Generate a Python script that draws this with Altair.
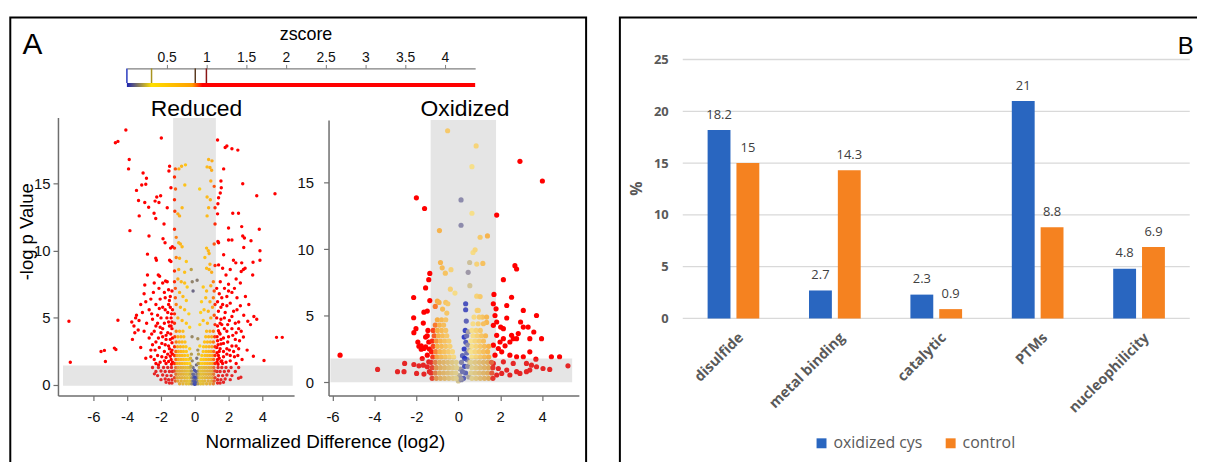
import altair as alt
import numpy as np
import pandas as pd

W, H = 1197, 454

# ---------------- Panel A data ----------------
# (normalized difference log2, -log p) for each cysteine
REDUCED_PTS = [
    # left, outside band (red)
    (-4.08,19.0),(-4.7,18.05),(-4.55,18.15),(-1.98,18.4),(-3.88,16.8),(-3.92,16.1),
    (-1.49,16.3),(-1.53,15.95),(-3.06,15.8),(-2.86,15.4),(-3.14,14.9),(-2.9,14.95),
    (-3.45,14.5),(-2.25,14.0),(-2.35,13.7),(-2.02,14.1),(-3.33,13.75),(-2.96,13.6),
    (-2.73,13.25),(-1.41,14.7),(-1.63,13.2),(-2.12,13.6),(-3.29,12.6),(-2.41,12.8),
    (-2.31,12.4),(-1.82,12.0),(-3.84,11.5),(-2.71,11.1),(-1.88,10.9),(-1.76,10.6),
    (-1.33,10.3),(-1.43,10.2),(-2.8,9.75),(-2.31,9.45),(-2.27,9.3),(-1.49,9.3),
    (-1.41,9.2),(-2.96,7.45),(-2.8,8.2),(-2.16,8.2),(-2.08,8.1),(-1.73,7.75),
    (-1.63,7.7),(-1.9,7.6),(-2.12,7.2),(-2.45,6.9),(-3.0,6.8),(-1.55,7.1),(-1.35,7.0),
    (-2.6,6.4),(-3.2,6.0),(-2.9,6.2),(-1.75,6.5),(-1.45,6.6),(-2.3,6.0),(-1.9,5.8),
    (-2.7,5.6),(-3.1,5.4),(-3.5,5.0),(-3.3,4.8),(-2.2,5.2),(-1.6,5.4),(-1.4,5.0),
    (-2.5,4.9),(-2.85,4.6),(-3.6,4.4),(-1.8,4.6),(-2.05,4.3),(-2.4,4.0),(-3.0,4.0),
    (-1.35,4.2),(-1.6,3.9),(-1.9,3.6),(-2.7,3.5),(-3.69,3.4),(-2.3,3.2),(-1.45,3.4),
    (-1.75,3.0),(-2.1,2.8),(-2.6,2.6),(-3.2,2.8),(-1.35,2.6),(-1.6,2.3),(-1.95,2.1),
    (-2.4,1.9),(-2.9,2.0),(-1.4,1.9),(-1.7,1.6),(-2.15,1.5),(-1.32,1.7),(-1.32,2.3),
    (-1.5,2.7),(-1.32,3.5),(-1.42,3.8),(-1.32,5.6),(-1.55,6.0),(-1.35,4.7),(-1.5,4.4),
    (-1.7,3.4),(-2.0,3.9),(-2.2,4.6),(-1.65,5.0),(-2.55,5.3),(-1.45,5.8),(-2.05,6.4),
    (-1.38,1.55),(-1.55,1.75),(-1.8,1.8),(-2.05,1.7),(-2.3,1.6),(-1.45,2.15),(-1.7,2.05),
    (-2.2,2.2),(-2.6,2.1),(-1.4,2.45),(-1.8,2.5),(-2.35,2.6),(-1.55,2.9),(-1.95,3.1),
    (-2.5,3.0),(-1.35,3.15),(-1.7,3.7),(-2.15,3.5),(-2.55,3.8),(-1.4,4.4),(-1.9,4.2),
    (-2.3,4.4),(-1.55,4.7),(-2.0,5.0),(-1.38,5.3),(-1.75,5.6),(-2.1,5.7),(-1.5,6.3),
    (-1.8,6.9),(-2.4,7.6),
    (-1.35,0.15),(-1.5,0.15),(-1.7,0.2),(-1.35,0.4),(-1.55,0.4),(-1.75,0.45),(-2.0,0.4),
    (-1.4,0.7),(-1.65,0.7),(-1.9,0.75),(-2.2,0.7),(-1.32,1.0),(-1.5,1.0),(-1.75,1.0),
    (-2.0,1.05),(-2.3,1.0),(-1.38,1.3),(-1.6,1.3),(-1.85,1.3),(-2.15,1.3),(-2.5,1.3),
    (-2.39,0.83),
    (-7.45,4.75),(-7.37,1.7),(-5.29,1.75),(-5.55,2.5),(-5.35,2.58),(-4.76,2.75),
    (-4.67,2.65),(-4.55,4.82),(-3.73,4.7),(-3.45,5.2),(-3.55,3.9),(-3.35,4.1),
    # right, outside band (red)
    (1.35,18.25),(1.8,17.7),(1.9,17.8),(2.2,17.6),(2.55,17.5),(1.71,16.1),(1.55,15.2),
    (1.57,14.7),(2.84,15.0),(3.67,14.1),(4.75,14.25),(1.41,13.95),(1.51,14.3),(1.37,13.5),
    (2.25,12.8),(2.59,12.8),(1.35,12.75),(2.0,11.7),(2.78,11.8),(3.82,11.6),(1.37,10.7),
    (1.41,10.6),(2.0,10.8),(2.2,10.8),(2.84,11.1),(2.94,10.95),(3.33,10.75),(2.9,10.25),
    (3.86,10.0),(3.86,9.3),(1.71,9.7),(2.29,9.3),(2.43,9.1),(3.45,9.15),(1.41,8.95),
    (1.65,8.7),(2.78,9.1),(2.88,8.6),(2.98,8.7),(2.75,8.45),(3.43,8.2),(1.3,7.2),
    (1.51,7.7),(1.76,7.2),(2.0,7.5),(2.35,7.2),(2.7,7.6),(2.2,6.9),(1.45,6.8),(1.9,6.6),
    (2.5,6.5),(3.0,6.6),(1.35,6.2),(1.65,6.0),(2.1,6.1),(2.7,5.9),(3.2,6.0),(1.4,5.5),
    (1.8,5.4),(2.3,5.5),(2.9,5.2),(3.5,5.1),(1.55,4.9),(2.05,4.8),(2.6,4.7),(3.14,4.75),
    (3.67,4.9),(3.3,4.5),(1.35,4.4),(1.75,4.2),(2.2,4.2),(2.75,4.0),(1.5,3.8),(2.0,3.6),
    (2.88,3.57),(2.4,3.4),(1.35,3.3),(1.7,3.1),(2.2,2.9),(2.6,2.7),(3.1,2.6),(1.45,2.5),
    (1.9,2.3),(2.35,2.1),(3.47,2.15),(4.1,1.83),(2.8,1.9),(1.35,1.9),(1.65,1.6),(1.32,1.7),
    (1.45,2.0),(1.32,2.4),(1.5,2.7),(1.32,3.6),(1.45,3.9),(1.6,1.8),(1.3,2.8),(1.3,5.0),
    (1.6,4.5),(1.9,4.0),(2.45,3.9),(1.55,3.4),(1.9,2.7),(2.3,2.5),(4.84,3.55),(5.18,3.55),
    (1.38,1.55),(1.55,1.75),(1.85,1.7),(2.1,1.8),(2.45,1.6),(1.7,2.1),(2.1,2.2),(2.55,2.2),
    (1.4,2.2),(1.7,2.5),(2.05,2.6),(2.45,2.9),(1.55,3.05),(1.95,3.2),(2.65,3.3),(1.38,3.0),
    (1.7,3.5),(2.25,3.7),(2.6,4.2),(1.4,4.05),(1.95,4.5),(2.4,4.6),(1.5,4.6),(1.75,5.0),
    (2.2,5.1),(1.55,5.8),(1.9,5.9),(2.5,5.6),(1.6,6.5),(2.0,7.0),(2.45,7.9),(1.85,8.2),
    (2.1,8.6),
    (1.35,0.15),(1.5,0.15),(1.7,0.2),(1.35,0.4),(1.55,0.4),(1.8,0.45),(2.1,0.4),(1.4,0.7),
    (1.65,0.7),(1.9,0.75),(2.2,0.7),(1.32,1.0),(1.5,1.0),(1.75,1.0),(2.0,1.05),(2.4,1.0),
    (1.38,1.3),(1.6,1.3),(1.85,1.3),(2.15,1.3),(2.6,1.3),(2.59,0.5),(2.73,0.58),
    # inside band, upper part
    (-1.15,16.1),(-0.94,16.1),(-0.78,16.3),(-0.55,16.4),(-1.14,14.6),(-0.59,14.9),
    (0.29,14.6),(0.73,14.0),(0.92,13.8),(0.82,16.8),(1.02,16.7),(0.73,16.25),(0.9,16.2),
    (1.0,16.0),(0.95,15.2),(-0.75,13.2),(-1.18,12.95),(-1.0,12.75),(-0.9,12.6),(0.73,12.6),
    (0.82,13.2),(-1.1,11.0),(-0.95,10.6),(-0.85,10.5),(-0.75,10.3),(0.7,10.2),(0.8,10.0),
    (0.85,9.8),(-1.1,9.5),(-0.9,9.45),(-0.5,9.2),(0.6,9.5),(0.9,9.0),(-1.2,8.5),(-0.95,8.6),
    (-0.6,8.4),(-0.21,8.6),(-0.15,7.7),(0.14,7.8),(-0.1,7.0),(0.7,8.7),(0.85,8.6),(1.0,8.4),
    (-1.0,7.9),(-0.8,7.7),(-0.6,7.6),(-0.45,7.3),(0.5,7.3),(0.7,7.0),(0.95,7.4),(1.1,7.7),
    (-1.15,7.2),(-0.9,6.9),(-0.7,6.6),(-0.5,6.3),(0.4,6.2),(0.65,6.5),(0.9,6.2),(1.1,6.5),
    (-1.1,6.0),(-0.85,5.8),(-0.6,5.6),(-0.35,5.3),(0.35,5.4),(0.55,5.6),(0.8,5.5),(1.05,5.8),
    (-1.2,5.3),(-1.0,5.0),(-0.75,4.8),(-0.5,4.6),(-0.3,4.3),(0.3,4.5),(0.5,4.8),(0.75,4.6),
    (0.95,5.0),(1.15,5.2),(-0.16,3.6),(0.18,3.45),
    (-1.2,4.6),(-1.15,6.5),(1.2,4.5),(1.2,6.0),(1.15,7.0),(-1.2,7.7),(1.2,8.9),(-1.2,10.2),
    (1.15,10.5),(-1.2,11.6),(1.2,12.0),(1.2,13.2),(-1.2,13.8),(1.15,14.8),(-1.2,15.5),
    # inside band, dense lower part
    (-0.9,0.1),(-0.7,0.1),(-0.5,0.1),(-0.35,0.1),(-0.2,0.1),(-0.1,0.1),(0.0,0.1),(0.1,0.1),
    (0.2,0.1),(0.35,0.1),(0.5,0.1),(0.7,0.1),(0.9,0.1),(1.1,0.1),
    (-1.15,0.3),(-1.0,0.3),(-0.8,0.3),(-0.6,0.3),(-0.45,0.3),(-0.3,0.3),(-0.15,0.3),
    (-0.05,0.3),(0.05,0.3),(0.15,0.3),(0.3,0.3),(0.45,0.3),(0.6,0.3),(0.8,0.3),(1.0,0.3),(1.15,0.3),
    (-1.2,0.55),(-1.05,0.55),(-0.9,0.55),(-0.75,0.55),(-0.6,0.55),(-0.45,0.55),(-0.3,0.55),
    (-0.18,0.55),(-0.08,0.55),(0.08,0.55),(0.18,0.55),(0.3,0.55),(0.45,0.55),(0.6,0.55),
    (0.75,0.55),(0.9,0.55),(1.05,0.55),(1.2,0.55),
    (-1.12,0.8),(-0.97,0.8),(-0.82,0.8),(-0.67,0.8),(-0.52,0.8),(-0.38,0.8),(-0.25,0.8),
    (-0.12,0.8),(0.12,0.8),(0.25,0.8),(0.38,0.8),(0.52,0.8),(0.67,0.8),(0.82,0.8),(0.97,0.8),(1.12,0.8),
    (-1.2,1.05),(-1.05,1.05),(-0.9,1.05),(-0.75,1.05),(-0.6,1.05),(-0.46,1.05),(-0.32,1.05),
    (-0.2,1.05),(0.2,1.05),(0.32,1.05),(0.46,1.05),(0.6,1.05),(0.75,1.05),(0.9,1.05),(1.05,1.05),(1.2,1.05),
    (-1.13,1.3),(-0.98,1.3),(-0.83,1.3),(-0.68,1.3),(-0.54,1.3),(-0.4,1.3),(-0.27,1.3),
    (0.27,1.3),(0.4,1.3),(0.54,1.3),(0.68,1.3),(0.83,1.3),(0.98,1.3),(1.13,1.3),
    (-1.2,1.6),(-1.05,1.6),(-0.9,1.6),(-0.75,1.6),(-0.6,1.6),(-0.45,1.6),(-0.3,1.6),
    (0.3,1.6),(0.45,1.6),(0.6,1.6),(0.75,1.6),(0.9,1.6),(1.05,1.6),(1.2,1.6),
    (-1.12,1.9),(-0.97,1.9),(-0.82,1.9),(-0.67,1.9),(-0.52,1.9),(-0.37,1.9),
    (0.37,1.9),(0.52,1.9),(0.67,1.9),(0.82,1.9),(0.97,1.9),(1.12,1.9),
    (-1.2,2.2),(-1.05,2.2),(-0.9,2.2),(-0.75,2.2),(-0.6,2.2),(-0.42,2.2),
    (0.42,2.2),(0.6,2.2),(0.75,2.2),(0.9,2.2),(1.05,2.2),(1.2,2.2),
    (-1.12,2.5),(-0.97,2.5),(-0.82,2.5),(-0.67,2.5),(-0.5,2.5),(0.5,2.5),(0.67,2.5),
    (0.82,2.5),(0.97,2.5),(1.12,2.5),
    (-1.2,2.85),(-1.02,2.85),(-0.85,2.85),(-0.68,2.85),(-0.52,2.85),(0.52,2.85),
    (0.68,2.85),(0.85,2.85),(1.02,2.85),(1.2,2.85),
    (-1.1,3.2),(-0.92,3.2),(-0.75,3.2),(-0.58,3.2),(0.58,3.2),(0.75,3.2),(0.92,3.2),(1.1,3.2),
    (-1.18,3.6),(-1.0,3.6),(-0.82,3.6),(-0.65,3.6),(0.65,3.6),(0.82,3.6),(1.0,3.6),(1.18,3.6),
    (-1.1,4.0),(-0.9,4.0),(-0.7,4.0),(0.7,4.0),(0.9,4.0),(1.1,4.0),
    # centre of the volcano (low zscore)
    (0.0,0.05),(-0.05,0.3),(0.05,0.5),(-0.08,0.8),(0.06,1.0),(-0.1,1.3),(0.1,1.5),
    (-0.15,1.8),(0.12,2.0),(-0.2,2.3),(0.18,2.6),(-0.22,1.4),(0.2,1.6),(-0.25,2.0),
    (0.22,2.3),(-0.3,2.7),(0.3,2.9),(0.0,0.6),(0.02,0.2),(-0.02,1.1),
]

OXIDIZED_PTS = [
    # outside band (red)
    (-5.64,2.04),(-3.85,0.97),(-2.56,1.42),(-2.9,0.8),(-2.59,0.8),(-2.0,13.86),(-1.61,13.06),
    (-1.36,8.18),(-1.41,7.71),(-1.56,7.09),(-2.13,6.37),(-1.36,6.14),(-1.64,5.27),(-1.48,5.35),
    (-2.13,4.85),(-1.67,4.45),(-2.02,4.03),(-2.12,3.73),(-1.56,3.4),(-1.48,3.5),(-1.93,3.03),
    (-1.77,2.74),(-1.64,2.54),(-1.56,2.66),(-1.77,2.49),(-1.88,2.71),(-1.48,2.04),(-2.12,1.34),
    (-1.88,1.24),(-1.67,1.29),(-1.99,0.67),(-1.64,0.62),(-1.41,1.54),(-1.38,0.8),(-1.48,1.17),
    (-1.72,1.79),(-1.41,3.03),(-1.45,3.9),(-1.38,2.5),
    (2.94,16.6),(4.01,15.12),(1.83,12.56),(2.15,7.71),(2.54,6.39),(2.31,5.77),(2.7,8.76),
    (2.78,8.51),(3.1,5.4),(2.97,4.53),(3.1,4.15),(2.31,4.83),(3.6,3.78),(3.41,3.28),(3.97,3.28),
    (3.41,2.29),(4.44,1.92),(4.83,1.92),(3.7,1.74),(4.36,0.97),(5.23,1.24),(2.62,3.28),
    (2.78,3.28),(2.46,3.03),(2.15,3.28),(1.99,3.03),(2.23,2.74),(1.91,2.54),(2.07,2.29),
    (2.46,2.04),(2.78,1.92),(3.1,1.92),(2.15,1.54),(2.62,1.42),(3.25,1.42),(3.49,1.29),
    (3.73,1.17),(1.91,1.04),(2.31,0.92),(2.78,0.8),(3.25,0.8),(2.07,0.67),(1.83,0.55),
    (2.46,0.55),(2.94,0.67),(3.41,0.92),(4.04,1.04),(1.67,1.42),(1.75,2.04),(1.67,2.79),
    (1.83,3.53),(1.67,4.28),(1.75,5.02),(1.8,5.52),(1.67,5.9),(1.7,6.6),(1.83,4.53),(2.02,4.15),
    (2.15,4.03),(2.54,3.53),(2.86,3.66),(3.33,4.15),(3.73,5.02),
    # inside band, upper part
    (-0.51,18.9),(0.85,17.76),(0.65,16.2),(0.65,12.7),(-0.9,11.4),(1.04,10.9),(1.39,11.0),
    (0.7,9.75),(0.8,9.95),(-0.85,9.0),(-0.77,8.6),(-0.62,8.2),(-0.35,8.46),(0.88,8.88),
    (1.17,8.93),(-0.38,7.0),(0.88,6.47),(1.04,6.44),(-1.0,6.1),(-0.92,6.0),(-0.6,6.0),
    (-0.5,5.9),(-1.1,5.7),(-0.75,5.5),(-0.55,5.2),(0.9,5.4),(1.15,4.9),(1.35,4.5),
    # centre (low zscore)
    (0.13,13.7),(0.13,11.8),(0.54,9.0),(0.47,8.26),(0.55,7.26),(-0.16,6.7),
    (0.35,5.9),(0.35,5.45),(0.38,4.6),(0.33,3.9),(0.28,3.4),(0.36,3.0),(0.28,2.5),
    (0.2,2.0),(0.15,1.5),(0.1,1.0),(0.05,0.5),(0.0,0.1),(0.25,0.3),(0.15,0.2),
    (0.4,2.2),(0.45,2.8),(0.42,1.7),(0.3,1.2),(0.35,0.7),(0.45,1.2),(0.5,0.4),
    (0.4,3.5),(0.48,3.8),(0.52,2.4),(0.55,1.5),(0.2,0.8),(0.1,0.3),(0.3,1.8),
    # inside band, dense lower part (left)
    (-1.25,0.3),(-1.05,0.3),(-0.85,0.3),(-0.65,0.3),(-0.45,0.3),(-0.25,0.3),(-0.1,0.3),
    (-1.3,0.7),(-1.1,0.7),(-0.9,0.7),(-0.7,0.7),(-0.5,0.7),(-0.3,0.7),(-0.12,0.7),
    (-1.25,1.1),(-1.05,1.1),(-0.85,1.1),(-0.65,1.1),(-0.45,1.1),(-0.25,1.1),(-0.08,1.1),
    (-1.3,1.5),(-1.1,1.5),(-0.9,1.5),(-0.7,1.5),(-0.5,1.5),(-0.3,1.5),(-0.1,1.5),
    (-1.22,1.9),(-1.02,1.9),(-0.82,1.9),(-0.62,1.9),(-0.42,1.9),(-0.22,1.9),
    (-1.28,2.3),(-1.08,2.3),(-0.88,2.3),(-0.68,2.3),(-0.48,2.3),(-0.28,2.3),
    (-1.2,2.7),(-1.0,2.7),(-0.8,2.7),(-0.6,2.7),(-0.4,2.7),
    (-1.25,3.1),(-1.05,3.1),(-0.85,3.1),(-0.65,3.1),(-0.45,3.1),
    (-1.15,3.5),(-0.95,3.5),(-0.75,3.5),(-0.55,3.5),
    (-1.2,3.9),(-1.0,3.9),(-0.8,3.9),(-0.6,3.9),
    (-1.1,4.3),(-0.9,4.3),(-0.7,4.3),(-1.0,4.7),(-0.8,4.7),(-0.6,4.7),
    # inside band, dense lower part (right)
    (0.65,0.3),(0.85,0.3),(1.05,0.3),(1.25,0.3),(1.45,0.3),(1.65,0.3),
    (0.6,0.7),(0.8,0.7),(1.0,0.7),(1.2,0.7),(1.4,0.7),(1.6,0.7),
    (0.65,1.1),(0.85,1.1),(1.05,1.1),(1.25,1.1),(1.45,1.1),(1.65,1.1),
    (0.6,1.5),(0.8,1.5),(1.0,1.5),(1.2,1.5),(1.4,1.5),(1.58,1.5),
    (0.65,1.9),(0.85,1.9),(1.05,1.9),(1.25,1.9),(1.45,1.9),
    (0.6,2.3),(0.8,2.3),(1.0,2.3),(1.2,2.3),(1.4,2.3),
    (0.65,2.7),(0.85,2.7),(1.05,2.7),(1.25,2.7),(1.45,2.7),
    (0.6,3.1),(0.8,3.1),(1.0,3.1),(1.2,3.1),
    (0.7,3.5),(0.9,3.5),(1.1,3.5),(1.3,3.5),
    (0.65,3.9),(0.85,3.9),(1.05,3.9),(0.7,4.4),(0.95,4.4),(1.2,4.4),
    (0.75,4.9),(1.0,4.9),(1.35,4.9),(0.95,5.4),
]

# grey threshold bands: x from, x to, y from, y to
REDUCED_VBAND = [(-1.28, 1.25, 1.45, 19.9)]
REDUCED_HBAND = [(-7.8, 5.8, -0.05, 1.45)]
OXIDIZED_VBAND = [(-1.32, 1.8, 1.79, 19.7)]
OXIDIZED_HBAND = [(-6.1, 5.43, 0.0, 1.79)]

X_TICKS = [-6, -4, -2, 0, 2, 4]
Y_TICKS = [0, 5, 10, 15]

# zscore colour key
ZSCORE_STOPS = [0, 0.31, 0.86, 1.0]
REDUCED_COLORS = ["#2233bb", "#ffd21a", "#fba81a", "#ff0000"]
OXIDIZED_COLORS = ["#2a38c8", "#f6e28e", "#f6ae45", "#ff0000"]
ZSCORE_TICKS = [0.5, 1, 1.5, 2, 2.5, 3, 3.5, 4]
ZSCORE_MAX = 4.38
THRESH_Z = [0, 0.31, 0.86, 1.0]
THRESH_COLORS = ["#2b3bbf", "#a89420", "#5a3a20", "#8a1515"]

# distance from the centre of each distribution -> zscore
REDUCED_DIST = [0, 0.3, 1.05, 1.25, 5.0]
OX_LEFT_DIST = [0, 0.35, 1.3, 1.62, 6.0]
OX_RIGHT_DIST = [0, 0.3, 1.2, 1.37, 6.0]
Z_AT_DIST = [0, 0.31, 0.86, 1.0, 4.0]
OX_CENTRE = 0.3

# ---------------- Panel B data ----------------
CATEGORIES = ["disulfide", "metal binding", "catalytic", "PTMs", "nucleophilicity"]
SERIES = ["oxidized cys", "control"]
OXIDIZED_CYS = [18.2, 2.7, 2.3, 21, 4.8]
CONTROL = [15, 14.3, 0.9, 8.8, 6.9]
BLUE, ORANGE = "#2966c0", "#f58220"

ONE = pd.DataFrame({"a": [0]})
ARIAL = "Liberation Sans"
CAL = "Open Sans"


def label(text, x, y, size, font=ARIAL, weight="normal", color="black",
          align="center", baseline="alphabetic", angle=0):
    kw = dict(text=text, fontSize=size, font=font, fontWeight=weight,
              color=color, align=align, baseline=baseline)
    if angle:
        kw["angle"] = angle
    return alt.Chart(ONE).mark_text(**kw).encode(x=alt.value(x), y=alt.value(y))


def box(x0, x1, y0, y1):
    return alt.Chart(ONE).mark_rect(fill="white", fillOpacity=0, stroke="black",
                                    strokeWidth=2).encode(
        x=alt.value(x0), x2=alt.value(x1), y=alt.value(y0), y2=alt.value(y1))


def z_reduced(x):
    return float(np.interp(abs(x), REDUCED_DIST, Z_AT_DIST))


def z_oxidized(x):
    if x < OX_CENTRE:
        return float(np.interp(OX_CENTRE - x, OX_LEFT_DIST, Z_AT_DIST))
    return float(np.interp(x - OX_CENTRE, OX_RIGHT_DIST, Z_AT_DIST))


def volcano(pts, zf, colors, vband, hband, xdom, xr, ydom, yr, size, ylabpad):
    df = pd.DataFrame(pts, columns=["x", "y"])
    df["z"] = [zf(v) for v in df["x"]]
    vdf = pd.DataFrame(vband, columns=["x", "xe", "y", "ye"])
    hdf = pd.DataFrame(hband, columns=["x", "xe", "y", "ye"])
    xs = alt.Scale(domain=xdom, range=xr, nice=False, zero=False)
    ys = alt.Scale(domain=ydom, range=yr, nice=False, zero=False)
    common = dict(title=None, grid=False, domainColor="#6e6e6e", domainWidth=1.5,
                  tickColor="#6e6e6e", tickWidth=1.2, tickSize=5, labelFont=ARIAL,
                  labelFontSize=15, labelColor="#111111",
                  labelExpr="datum.value + ''")
    xa = alt.Axis(orient="bottom", offset=yr[0] - H, values=X_TICKS,
                  labelPadding=9, **common)
    ya = alt.Axis(orient="left", offset=-xr[0], values=Y_TICKS,
                  labelPadding=ylabpad, **common)
    cs = alt.Scale(domain=ZSCORE_STOPS, range=colors, clamp=True, interpolate="rgb")
    vband_c = alt.Chart(vdf).mark_rect(color="#e5e5e5").encode(
        x=alt.X("x:Q", scale=xs, axis=xa), x2="xe:Q",
        y=alt.Y("y:Q", scale=ys, axis=ya), y2="ye:Q")
    pts_c = alt.Chart(df).mark_circle(size=size, opacity=1).encode(
        x=alt.X("x:Q", scale=xs, axis=xa),
        y=alt.Y("y:Q", scale=ys, axis=ya),
        color=alt.Color("z:Q", scale=cs, legend=None))
    hband_c = alt.Chart(hdf).mark_rect(color="#999999", opacity=0.25).encode(
        x=alt.X("x:Q", scale=xs, axis=xa), x2="xe:Q",
        y=alt.Y("y:Q", scale=ys, axis=ya), y2="ye:Q")
    return alt.layer(vband_c, pts_c, hband_c)


reduced = volcano(REDUCED_PTS, z_reduced, REDUCED_COLORS, REDUCED_VBAND, REDUCED_HBAND,
                  [-8.1, 5.88], [50.3, 288.0], [-0.79, 19.93], [388.7, 108.7], 12, 3)
oxidized = volcano(OXIDIZED_PTS, z_oxidized, OXIDIZED_COLORS, OXIDIZED_VBAND, OXIDIZED_HBAND,
                   [-6.19, 5.75], [322.7, 574.7], [-1.0, 19.7], [388.7, 111.3], 27, 10)

# ---- zscore colour bar
cb_scale = alt.Scale(domain=[0, ZSCORE_MAX], range=[119.7, 470.3], nice=False, zero=False)
cb_axis = alt.Axis(orient="top", offset=-59.3, values=ZSCORE_TICKS,
                   labelExpr="datum.value + ''", title=None, grid=False,
                   domainColor="#7f7f7f", domainWidth=1.2, tickColor="#7f7f7f",
                   tickSize=4, labelFont=ARIAL, labelFontSize=14, labelPadding=0,
                   labelColor="#111111")
grad = alt.LinearGradient(
    gradient="linear", x1=0, x2=1, y1=0, y2=0,
    stops=[alt.GradientStop(color="#1a22b0", offset=0),
           alt.GradientStop(color="#ffe000", offset=0.31 / ZSCORE_MAX),
           alt.GradientStop(color="#ffa000", offset=0.82 / ZSCORE_MAX),
           alt.GradientStop(color="#ff0000", offset=0.95 / ZSCORE_MAX),
           alt.GradientStop(color="#ff0000", offset=1)])
stripe = alt.Chart(pd.DataFrame({"z0": [0], "z1": [ZSCORE_MAX]})).mark_rect(color=grad).encode(
    x=alt.X("z0:Q", scale=cb_scale, axis=cb_axis), x2="z1:Q",
    y=alt.value(74), y2=alt.value(78))
thresh = alt.Chart(pd.DataFrame({"z": THRESH_Z, "c": THRESH_COLORS})).mark_rule(strokeWidth=1.5).encode(
    x=alt.X("z:Q", scale=cb_scale, axis=cb_axis),
    y=alt.value(59.3), y2=alt.value(74),
    color=alt.Color("c:N", scale=None))
colorbar = alt.layer(stripe, thresh)

# ---- Panel B bars
bar_df = pd.DataFrame({
    "cat": CATEGORIES * 2,
    "series": [SERIES[0]] * 5 + [SERIES[1]] * 5,
    "value": OXIDIZED_CYS + CONTROL,
})
bx = alt.Scale(domain=CATEGORIES, range=[679.3, 1189.7], paddingInner=0, paddingOuter=0)
by = alt.Scale(domain=[0, 25], range=[311, 50.3], nice=False)
bxo = alt.Scale(domain=SERIES, paddingInner=0.207, paddingOuter=0.862)
bxa = alt.Axis(orient="bottom", offset=311 - H, ticks=False, domain=False, grid=False,
               labelAngle=-45, labelAlign="right", labelBaseline="top", labelPadding=12,
               labelOffset=3, labelFont=CAL, labelFontWeight="bold", labelFontSize=14.5,
               labelColor="#595959", title=None)
bya = alt.Axis(orient="left", offset=-679.3, values=[0, 5, 10, 15, 20, 25], ticks=False,
               domain=False, grid=False, labelPadding=14.6, labelFont=CAL,
               labelFontWeight="bold", labelFontSize=13, labelColor="#595959", title=None)
gridlines = alt.Chart(pd.DataFrame({"g": [0, 5, 10, 15, 20, 25]})).mark_rule(
    color="#d9d9d9", strokeWidth=1.3).encode(
    y=alt.Y("g:Q", scale=by, axis=bya), x=alt.value(679.3), x2=alt.value(1189.7))
bars = alt.Chart(bar_df).mark_bar().encode(
    x=alt.X("cat:N", scale=bx, axis=bxa, sort=CATEGORIES),
    xOffset=alt.XOffset("series:N", scale=bxo, sort=SERIES),
    y=alt.Y("value:Q", scale=by, axis=bya),
    color=alt.Color("series:N", sort=SERIES,
                    scale=alt.Scale(domain=SERIES, range=[BLUE, ORANGE]),
                    legend=alt.Legend(orient="none", legendX=811, legendY=428.7,
                                      direction="horizontal", title=None,
                                      symbolType="square", symbolSize=100,
                                      symbolStrokeWidth=0, labelFont=CAL,
                                      labelFontSize=16, labelColor="#595959",
                                      columnPadding=20, labelOffset=4, padding=0)))
values = alt.Chart(bar_df).mark_text(dy=-11.4, font=CAL, fontSize=13, color="#404040",
                                     baseline="alphabetic").encode(
    x=alt.X("cat:N", scale=bx, axis=bxa, sort=CATEGORIES),
    xOffset=alt.XOffset("series:N", scale=bxo, sort=SERIES),
    y=alt.Y("value:Q", scale=by, axis=bya),
    text=alt.Text("value:Q"))
panel_b = alt.layer(gridlines, bars, values)

texts = [
    label("A", 14.7, 44.3, 30, align="left"),
    label("B", 1177.7, 44.3, 24, align="left"),
    label("zscore", 300, 31, 18),
    label("Reduced", 189.8, 107, 23),
    label("Oxidized", 460, 107, 23),
    label("-log p Value", 25.5, 223.7, 18.6, angle=270),
    label("Normalized Difference (log2)", 319.5, 441.3, 19),
    label("%", 638.7, 180.3, 16, font=CAL, weight="bold", color="#595959", angle=270),
]

chart = alt.layer(
    box(2.3, 582, 8, 480), box(616, 1230, 8, 480),
    colorbar, reduced, oxidized, panel_b, *texts
).resolve_scale(
    x="independent", y="independent", color="independent"
).resolve_axis(
    x="independent", y="independent"
).resolve_legend(
    color="independent"
).properties(
    width=W, height=H, autosize=alt.AutoSizeParams(type="none"), padding=0
).configure_view(stroke=None)

chart.save("out.html", embed_options={"renderer": "svg", "actions": False})
